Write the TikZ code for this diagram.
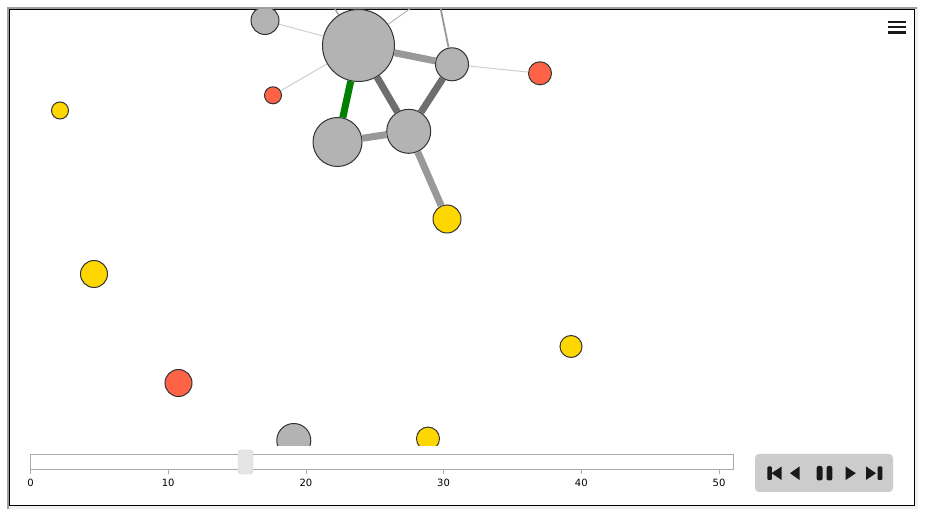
\documentclass[tikz,border=0pt]{standalone}
\usepackage{fontspec}
\setmainfont{DejaVu Sans}

\definecolor{nodegray}{HTML}{B3B3B3}
\definecolor{nodered}{HTML}{FF6347}
\definecolor{nodegold}{HTML}{FFD700}
\definecolor{linkdark}{HTML}{6E6E6E}
\definecolor{linkmid}{HTML}{999999}
\definecolor{linklight}{HTML}{CCCCCC}
\definecolor{panelgray}{HTML}{CCCCCC}
\definecolor{trackgray}{HTML}{AAAAAA}

\begin{document}
\begin{tikzpicture}[x=1pt, y=-1pt, every node/.style={font=\fontsize{10}{12}\selectfont},
	vert/.style={circle, draw=black!80, line width=1pt, inner sep=0pt, minimum size=#1},
	grayv/.style={vert=#1, fill=nodegray},
	redv/.style={vert=#1, fill=nodered},
	goldv/.style={vert=#1, fill=nodegold},
	heavy/.style={line width=7pt},
	thin/.style={line width=0.9pt, linklight}]
	\useasboundingbox (0,0) rectangle (927,518);
	\fill[white] (0,0) rectangle (927,518);
	% frame
	\fill[black!6] (7,7) rectangle (918,509);
	\fill[white] (9,9) rectangle (915,506);
	\draw[gray!75, line width=2pt] (8,509) -- (8,8) -- (917,8);
	\draw[black, line width=1pt] (9.5,9.5) rectangle (914.5,505.5);
	% graph
	\begin{scope}
		\clip (10,10) rectangle (914,445.5);
		\node[grayv=72] (A) at (358.5,45.5) {};
		\node[grayv=33] (B) at (452,64.3) {};
		\node[grayv=44] (C) at (408.7,131.3) {};
		\node[grayv=49] (D) at (337.5,142) {};
		\node[grayv=28] (E) at (265,20.5) {};
		\node[redv=17] (F) at (273,95.3) {};
		\node[redv=23] (G) at (540,73.3) {};
		\node[goldv=28] (H) at (447,219) {};
		\node[goldv=17] (I) at (60,110.5) {};
		\node[goldv=27] (J) at (94,274) {};
		\node[redv=27] (K) at (178.5,383) {};
		\node[goldv=22] (L) at (571,346.5) {};
		\node[grayv=34] (M) at (293.8,440.5) {};
		\node[goldv=23] (N) at (428,438.6) {};
		\coordinate (outA1) at (331,3);
		\coordinate (outA2) at (418,3);
		\coordinate (outB) at (439.5,3);
		\draw[heavy, linkmid] (A) -- (B);
		\draw[heavy, green!50!black] (A) -- (D);
		\draw[heavy, linkdark] (A) -- (C);
		\draw[heavy, linkdark] (B) -- (C);
		\draw[heavy, linkmid] (D) -- (C);
		\draw[heavy, linkmid] (C) -- (H);
		\draw[thin] (B) -- (G);
		\draw[thin] (A) -- (E);
		\draw[thin] (A) -- (F);
		\draw[thin, black!30] (A) -- (outA2);
		\draw[line width=1.3pt, linkmid] (A) -- (outA1);
		\draw[line width=1.8pt, linkmid] (B) -- (outB);
	\end{scope}
	% slider
	\draw[trackgray, fill=white] (30.5,454.5) rectangle (733.5,469.5);
	\foreach \v in {0,10,...,50} {
		\draw[trackgray] ({30.5+13.77*\v},469.5) -- ({30.5+13.77*\v},474);
		\node[inner sep=0pt] (t\v) at ({30.5+13.77*\v},482.5) {\v};
	}
	\node[draw=black!18, fill=black!10, rounded corners=3pt, minimum width=15pt, minimum height=24pt, inner sep=0pt] (knob) at (245.5,462) {};
	% player buttons
	\fill[panelgray, rounded corners=4pt] (755,454) rectangle (893,492);
	\begin{scope}[black!90]
		\fill[rounded corners=1pt] (767.3,466.5) rectangle (771.8,480);
		\fill (781.7,466.5) -- (781.7,480) -- (771.5,473.2) -- cycle;
		\fill (799.5,466.5) -- (799.5,480) -- (790,473.2) -- cycle;
		\fill[rounded corners=2pt] (816.7,466) rectangle (822.5,480.5);
		\fill[rounded corners=2pt] (826.5,466) rectangle (832.3,480.5);
		\fill (845.7,466.5) -- (845.7,480) -- (855.8,473.2) -- cycle;
		\fill (866,466.5) -- (866,480) -- (876,473.2) -- cycle;
		\fill[rounded corners=1pt] (877.5,466.5) rectangle (882.3,480);
	\end{scope}
	% menu
	\foreach \yy in {22,27.3,32.5} {\draw[black!90, line width=2.2pt] (888,\yy) -- (905.5,\yy);}
\end{tikzpicture}
\end{document}
